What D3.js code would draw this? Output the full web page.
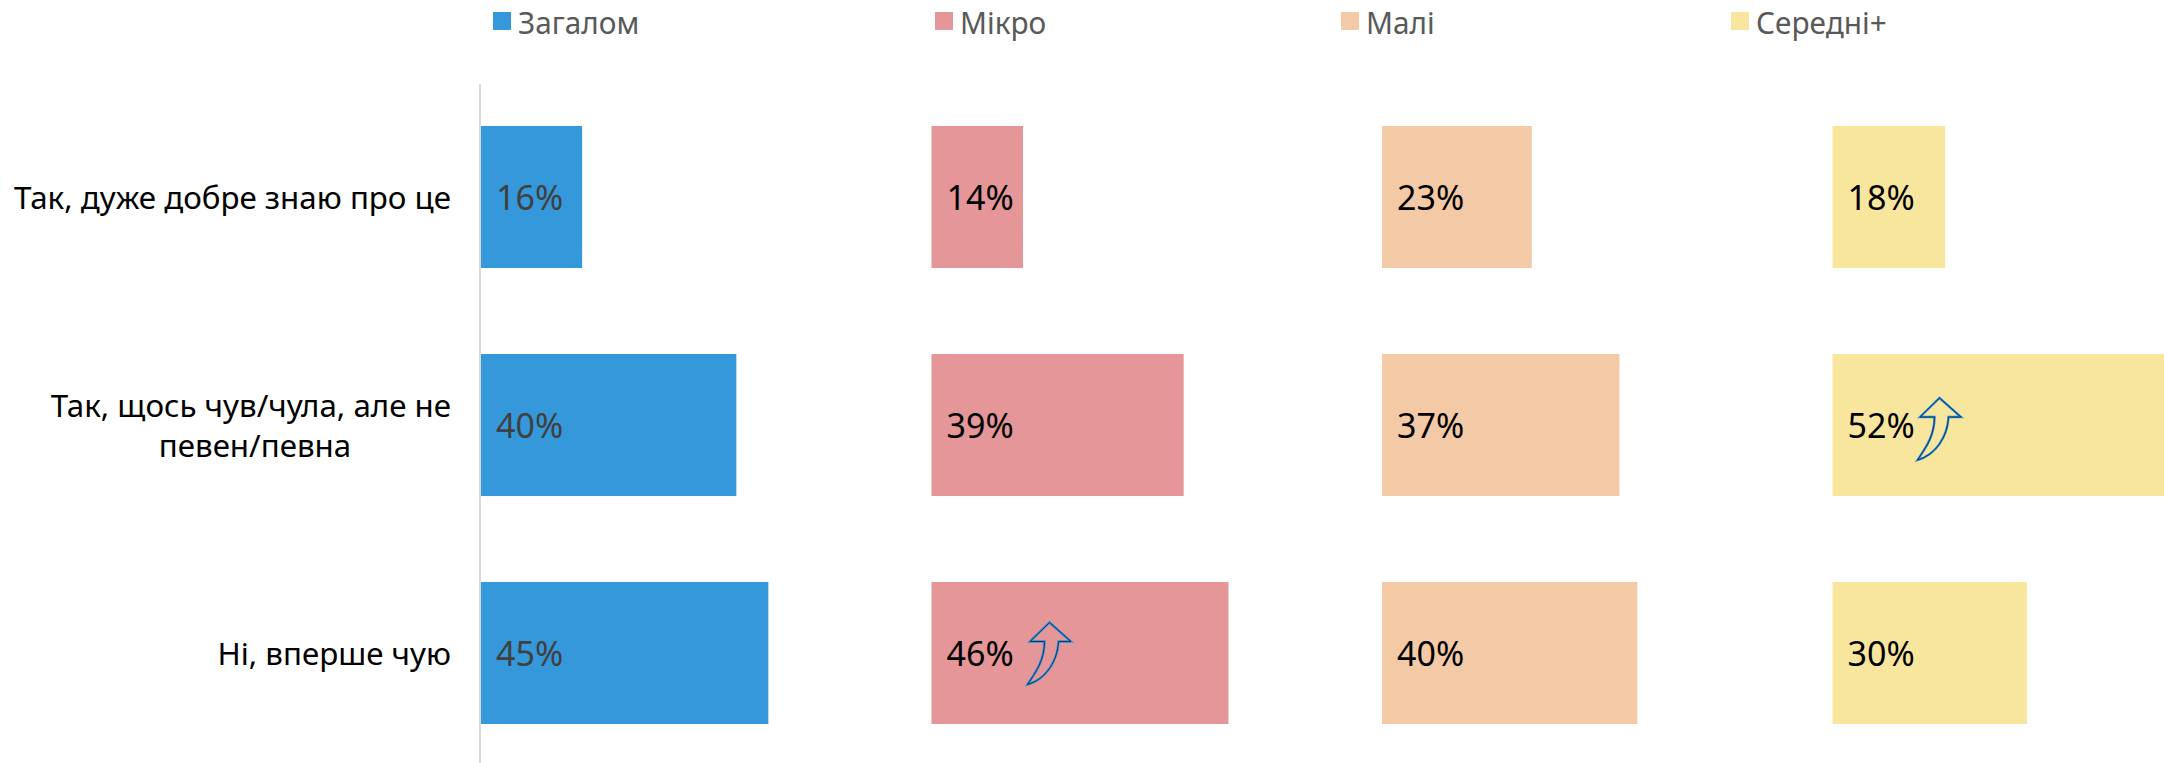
<!DOCTYPE html>
<html><head><meta charset="utf-8">
<script src="https://cdn.jsdelivr.net/npm/d3@7/dist/d3.min.js"></script>
<style>html,body{margin:0;padding:0;background:#fff;overflow:hidden}svg{display:block}text{font-family:"Noto Sans","Open Sans",sans-serif}</style>
</head><body><svg id="c" width="2164" height="763"></svg>
<script>
const categories = ["Так, дуже добре знаю про це", "Так, щось чув/чула, але не певен/певна", "Ні, вперше чую"];
const categoryLines = [["Так, дуже добре знаю про це"], ["Так, щось чув/чула, але не", "певен/певна"], ["Ні, вперше чую"]];
const seriesNames = ["Загалом", "Мікро", "Малі", "Середні+"];
const overall = [15.8, 39.9, 44.9];
const micro = [14.3, 39.4, 46.4];
const small = [23.4, 37.1, 39.9];
const medium = [17.6, 52, 30.4];
const colors = ["#3498db", "#e59698", "#f4caa6", "#f9e69e"];
const labelColors = ["#404040", "#000", "#000", "#000"];
const arrows = [{series: 1, category: 2, dx: 118, dy: -30.5}, {series: 3, category: 1, dx: 107, dy: -27}];
const values = [overall, micro, small, medium];

const svg = d3.select("#c");
const panelX = d3.scalePoint().domain(seriesNames).range([481, 1832.5]);
const y = d3.scaleBand().domain(categories).range([83, 767]).paddingInner(0.377).paddingOuter(0.1886);
const w = d3.scaleLinear().domain([0, 100]).range([0, 640]);
const fmt = d => d3.format(".0f")(d) + "%";

// legend
const legendX = [493, 935, 1341, 1731];
seriesNames.forEach((s, i) => {
  svg.append("rect").attr("x", legendX[i]).attr("y", 12).attr("width", 18).attr("height", 18).attr("fill", colors[i]);
  const t = svg.append("text").attr("x", legendX[i] + 25).attr("y", 33.5).attr("font-size", 31).attr("fill", "#595959").text(s);
  t.attr("textLength", t.node().getComputedTextLength() * 0.96).attr("lengthAdjust", "spacingAndGlyphs");
});

// baseline
svg.append("line").attr("x1", 480).attr("x2", 480).attr("y1", 84).attr("y2", 763).attr("stroke", "#d9d9d9").attr("stroke-width", 2);

// category labels
categories.forEach((c, k) => {
  const lines = categoryLines[k];
  const cy = y(c) + y.bandwidth() / 2;
  lines.forEach((t, i) => {
    const centered = i > 0;
    svg.append("text").attr("text-anchor", centered ? "middle" : "end")
      .attr("font-size", 31.3).attr("fill", "#000")
      .attr("x", centered ? 255 : 451)
      .attr("y", cy + 12 + (i - (lines.length - 1) / 2) * 40)
      .text(t);
  });
});

// bars + labels
seriesNames.forEach((s, i) => {
  const g = svg.append("g").attr("transform", `translate(${panelX(s)},0)`);
  g.selectAll("rect").data(values[i]).join("rect")
    .attr("x", 0).attr("y", (d, j) => y(categories[j])).attr("height", y.bandwidth())
    .attr("width", d => w(d)).attr("fill", colors[i]);
  g.selectAll("text").data(values[i]).join("text")
    .attr("x", 15).attr("y", (d, j) => y(categories[j]) + y.bandwidth() / 2 + 13)
    .attr("font-size", 34).attr("fill", labelColors[i]).text(fmt);
});

// up-arrow annotations
const arrowPath = "M0,0 L21.5,19 L9,19 C8,39 -4,57 -22,62 C-14,50 -5,38 -5,19 L-19.5,19 Z";
arrows.forEach(a => {
  const x = panelX(seriesNames[a.series]) + a.dx;
  const cy = y(categories[a.category]) + y.bandwidth() / 2 + a.dy;
  const g = svg.append("g").attr("transform", `translate(${x},${cy})`);
  g.append("path").attr("d", arrowPath).attr("fill", "none").attr("stroke", "#2f8fd6").attr("stroke-width", 2.4);
  g.append("path").attr("d", arrowPath).attr("fill", "none").attr("stroke", "#0b3a66").attr("stroke-width", 1);
});
</script></body></html>
